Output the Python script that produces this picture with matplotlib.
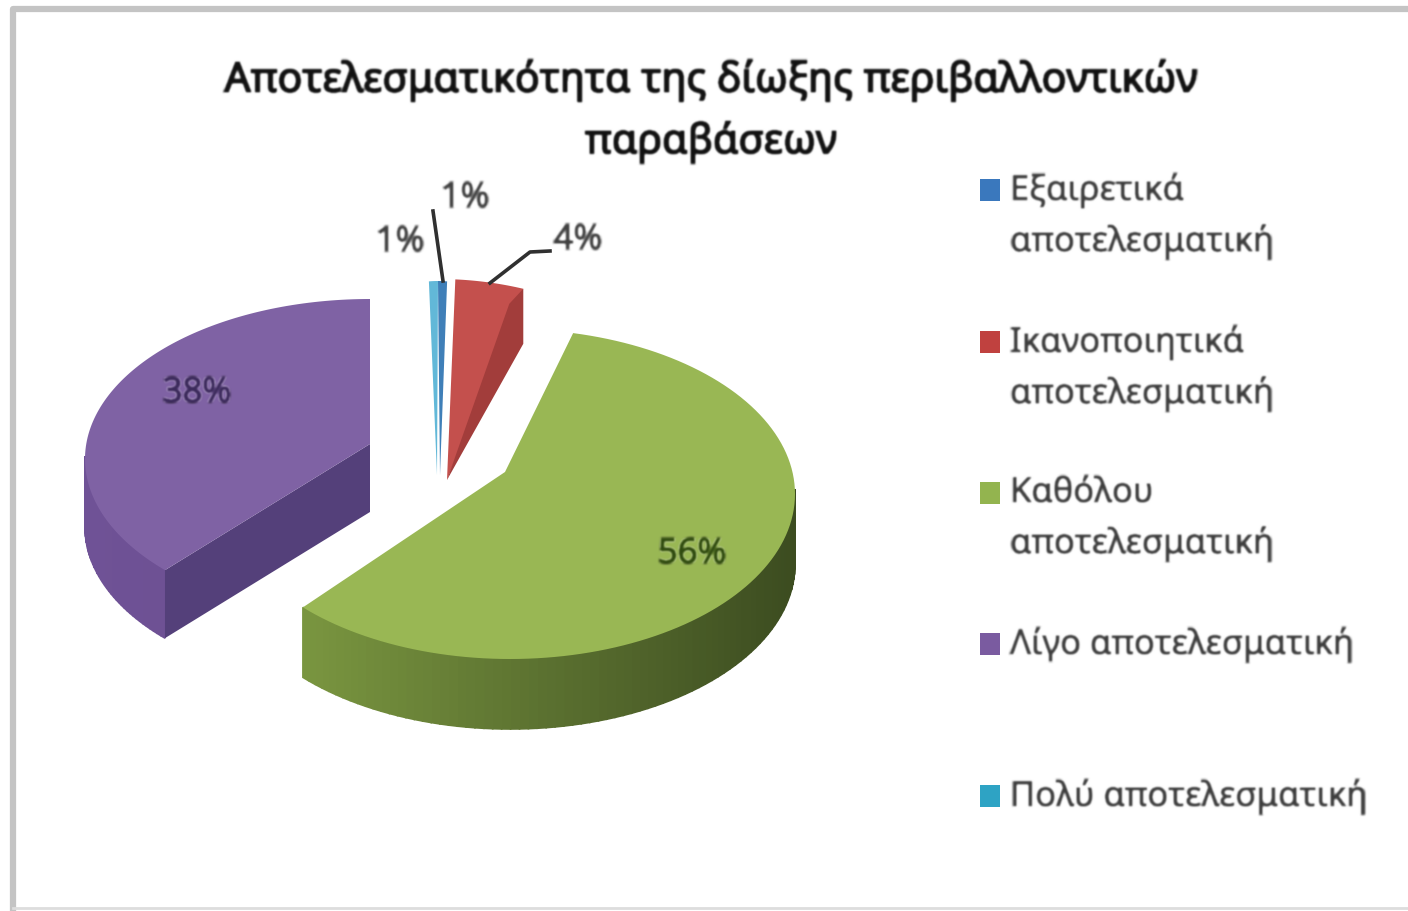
import numpy as np
import matplotlib
matplotlib.use('Agg')
import matplotlib.pyplot as plt
import matplotlib.patheffects as pe

plt.rcParams['font.family'] = ['Noto Sans', 'DejaVu Sans']

# chart data
title_text = 'Αποτελεσματικότητα της δίωξης περιβαλλοντικών\nπαραβάσεων'
categories = ['Εξαιρετικά\nαποτελεσματική', 'Ικανοποιητικά\nαποτελεσματική',
              'Καθόλου\nαποτελεσματική', 'Λίγο αποτελεσματική', 'Πολύ αποτελεσματική']
shares = [1, 4, 56, 38, 1]
top_colors = ['#3f7fb8', '#c4504d', '#99b754', '#7f62a4', '#62b8d8']
legend_colors = ['#3a78bd', '#c0413f', '#93b44f', '#7a5ba0', '#2ea3c4']

# look of each slice in pixels: ellipse centre, radii, tip, depth, tweak of start/end angle
look = [
    dict(cx=438, cy=480, rx=145, ry=198, tip=(440, 476), depth=0, shift=(0, 0)),
    dict(cx=438, cy=480, rx=276, ry=200, tip=(447, 481), depth=55, shift=(0, 0)),
    dict(cx=510, cy=495, rx=285, ry=165, tip=(505, 473), depth=70, shift=(-5.2, 7)),
    dict(cx=370, cy=460, rx=285, ry=160, tip=(370, 445), depth=68, shift=(6.4, 3.6)),
    dict(cx=438, cy=480, rx=145, ry=198, tip=(437, 476), depth=0, shift=(0, 0)),
]
side_left = ['#3f7fb8', '#a03c3a', '#7a9640', '#6f5296', '#4baac6']
side_right = ['#3f7fb8', '#a03c3a', '#3c4c20', '#6a4d8f', '#4baac6']
cut_colors = ['#3f7fb8', '#a23d3b', '#5b7030', '#54407a', '#4baac6']


def soft(img, dpi):
    # the reference is a blurry scan, so soften text a little
    pad = 4
    a = np.pad(img, ((pad, pad), (pad, pad), (0, 0)))
    for axis in (0, 1):
        a = (np.roll(a, 1, axis) + 2 * a + np.roll(a, -1, axis)) / 4
        a = (np.roll(a, 1, axis) + 2 * a + np.roll(a, -1, axis)) / 4
    return a, -pad, -pad


fig = plt.figure(figsize=(14.08, 9.12), dpi=100, facecolor='white')
ax = fig.add_axes([0, 0, 1, 1])
ax.set_xlim(0, 1408)
ax.set_ylim(912, 0)
ax.axis('off')

# frame of the pasted picture
ax.plot([1408, 13, 13], [10, 10, 912], color='#c4c4c4', lw=4.5, solid_joinstyle='round')
ax.plot([13, 1408], [909, 909], color='#dddddd', lw=2)

ends = np.cumsum(shares) * 360.0 / sum(shares)
starts = ends - np.array(shares) * 360.0 / sum(shares)


def arc_points(g, a1, a2, n=120):
    t = np.radians(np.linspace(a1, a2, n))
    return g['cx'] + g['rx'] * np.sin(t), g['cy'] - g['ry'] * np.cos(t)


def mix(c1, c2, f):
    a = np.array(matplotlib.colors.to_rgb(c1))
    b = np.array(matplotlib.colors.to_rgb(c2))
    return a + (b - a) * f


# back to front
for i in [4, 0, 1, 3, 2]:
    g = look[i]
    a1 = starts[i] + g['shift'][0]
    a2 = ends[i] + g['shift'][1]
    xs, ys = arc_points(g, a1, a2)
    d = g['depth']
    if d and i != 1:
        # outer wall, shaded left to right, only the part facing us
        for k in range(len(xs) - 1):
            if ys[k] < g['cy'] and ys[k + 1] < g['cy']:
                continue
            f = (xs[k] - xs.min()) / (xs.max() - xs.min())
            c = mix(side_left[i], side_right[i], f)
            ax.fill([xs[k], xs[k + 1], xs[k + 1], xs[k]],
                    [ys[k], ys[k + 1], ys[k + 1] + d, ys[k] + d],
                    facecolor=c, edgecolor=c, lw=1.2)
    if i == 3:
        # cut face of the purple slice
        ax.fill([xs[0], g['tip'][0], g['tip'][0], xs[0]],
                [ys[0], g['tip'][1], g['tip'][1] + d, ys[0] + d],
                color=cut_colors[i], lw=0)
    ax.fill(np.r_[g['tip'][0], xs], np.r_[g['tip'][1], ys], color=top_colors[i], lw=0)
    if i == 1:
        # cut face of the red slice narrows to the tip
        ax.fill([xs[-1], xs[-1], g['tip'][0], xs[-1] - 14],
                [ys[-1], ys[-1] + d, g['tip'][1], ys[-1] + 15],
                color=cut_colors[i], lw=0)

# leader lines
ax.plot([433, 443], [212, 282], color='#303030', lw=2.6)
ax.plot([490, 530, 550], [284, 253, 252], color='#303030', lw=2.6)

texts = []

# value labels
label_xy = [(465, 199), (578, 241), (692, 555), (197, 394), (400, 243)]
label_colors = ['#404040', '#404040', '#2f4a10', '#3b2a5a', '#404040']
for v, (x, y), c in zip(shares, label_xy, label_colors):
    t = ax.text(x, y, f'{v}%', ha='center', va='center', fontsize=25, color=c)
    t.set_path_effects([pe.withStroke(linewidth=0.9, foreground=c)])
    texts.append(t)

t = ax.text(711, 112, title_text, ha='center', va='center', fontsize=29.6, color='#111111',
            linespacing=1.56)
t.set_path_effects([pe.withStroke(linewidth=1.5, foreground='#111111')])
texts.append(t)

# legend drawn by hand, first line beside the square
legend_y = [191, 343, 494, 645, 797]
for name, c, y in zip(categories, legend_colors, legend_y):
    ax.fill([980, 1000, 1000, 980], [y - 11, y - 11, y + 11, y + 11], color=c, lw=0)
    t = ax.text(1010, y - 17, name, ha='left', va='top', fontsize=24.8, color='#3c3c3c',
                linespacing=1.6)
    t.set_path_effects([pe.withStroke(linewidth=0.7, foreground='#3c3c3c')])
    texts.append(t)

for t in texts:
    t.set_agg_filter(soft)

fig.savefig('out.png', dpi=100)
